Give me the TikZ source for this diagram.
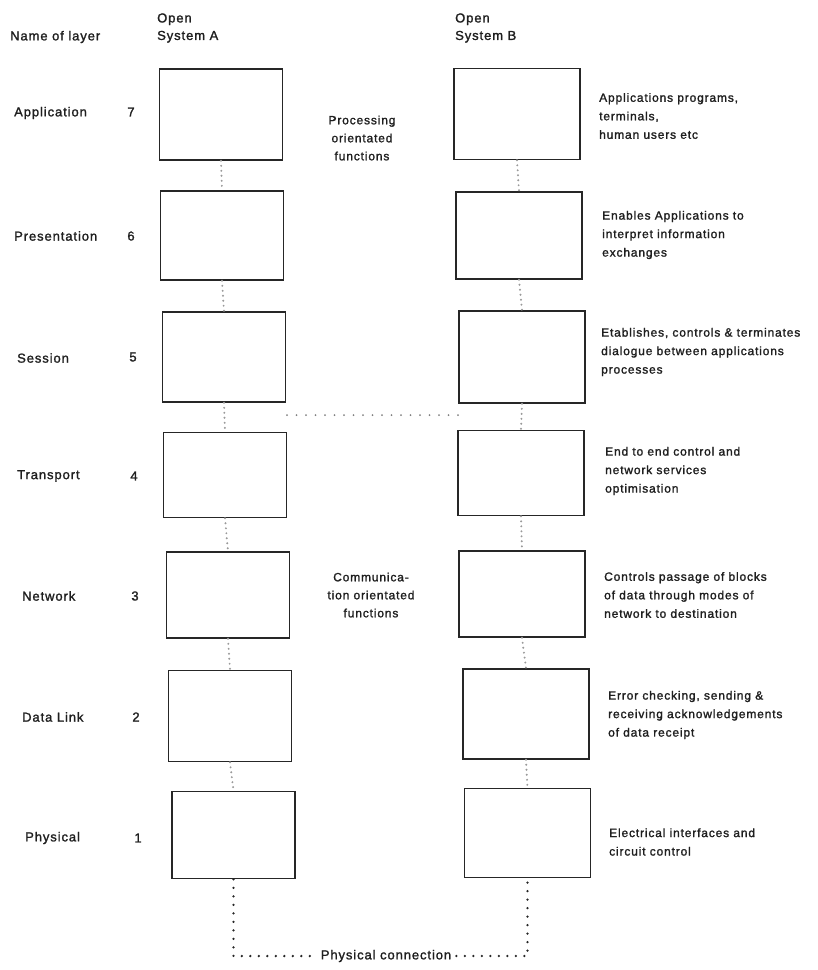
\documentclass[tikz,border=0pt]{standalone}
\usepackage{fontspec}
\newfontfamily\labelfont{Liberation Sans}[LetterSpace=7, FakeBold=1.5]
\begin{document}
\begin{tikzpicture}[x=1pt,y=-1pt,
  ink/.style={text=black!88},
  layername/.style={ink, anchor=west, inner sep=0pt, font=\labelfont\fontsize{13}{16}\selectfont},
  layernum/.style={ink, inner sep=0pt, font=\labelfont\fontsize{13}{16}\selectfont},
  header/.style={ink, anchor=west, align=left, inner sep=0pt, font=\labelfont\fontsize{13}{17.5}\selectfont},
  midnote/.style={ink, align=center, inner sep=0pt, font=\labelfont\fontsize{12}{18}\selectfont},
  descr/.style={ink, anchor=west, align=left, inner sep=0pt, font=\labelfont\fontsize{12}{18.5}\selectfont},
  sysbox/.style={draw=black!85, line width=1.6pt, inner sep=0pt, fill=white},
  boxA/.style={sysbox, minimum width=123pt},
  boxB/.style={sysbox, minimum width=126pt},
  linkdots/.style={draw=black!40, line width=2.2pt, line cap=round, dash pattern=on 0pt off 5pt},
  sessdots/.style={draw=black!50, line width=2pt, line cap=round, dash pattern=on 0pt off 9.5pt},
  physdots/.style={draw=black!85, line width=2.6pt, line cap=round, dash pattern=on 0pt off 8.5pt},
]
\useasboundingbox (0,0) rectangle (818,970);

% column headings
\node[header] (hname) at (10,37) {Name of layer};
\node[header] (hA) at (157,28) {Open\\System A};
\node[header] (hB) at (455,28) {Open\\System B};

% layer names and numbers
\node[layername] (n7) at (14,113) {Application};
\node[layername] (n6) at (14,236) {Presentation};
\node[layername] (n5) at (17,358) {Session};
\node[layername] (n4) at (17,476) {Transport};
\node[layername] (n3) at (22,596) {Network};
\node[layername] (n2) at (22,717) {Data Link};
\node[layername] (n1) at (25,838) {Physical};

\node[layernum] (k7) at (131,112) {7};
\node[layernum] (k6) at (131,236) {6};
\node[layernum] (k5) at (133,357) {5};
\node[layernum] (k4) at (134,476) {4};
\node[layernum] (k3) at (135,596) {3};
\node[layernum] (k2) at (136,717) {2};
\node[layernum] (k1) at (138,838) {1};

% open system A
\node[boxA, minimum height=91pt] (a7) at (221,114.5) {};
\node[boxA, minimum height=89pt] (a6) at (222,235.5) {};
\node[boxA, minimum height=90pt] (a5) at (224,357) {};
\node[boxA, minimum height=85pt] (a4) at (225,475) {};
\node[boxA, minimum height=86pt] (a3) at (228,595) {};
\node[boxA, minimum height=91pt] (a2) at (230,716) {};
\node[boxA, minimum height=87pt] (a1) at (233.5,835) {};

% open system B
\node[boxB, minimum height=91pt] (b7) at (517,114) {};
\node[boxB, minimum height=87pt] (b6) at (519,235.5) {};
\node[boxB, minimum height=92pt] (b5) at (522,357) {};
\node[boxB, minimum height=85pt] (b4) at (521,473) {};
\node[boxB, minimum height=86pt] (b3) at (522,594) {};
\node[boxB, minimum height=90pt] (b2) at (526,714) {};
\node[boxB, minimum height=89pt] (b1) at (527.5,833) {};

% links between adjacent layers
\foreach \u/\l in {7/6,6/5,5/4,4/3,3/2,2/1}{
  \draw[linkdots] (a\u.south) -- (a\l.north);
  \draw[linkdots] (b\u.south) -- (b\l.north);
}

% peer boundary between upper and lower layers
\coordinate (sA) at (287,415);
\coordinate (sB) at (458,415);
\draw[sessdots] (sA) -- (sB);

% functional groupings
\node[midnote] (proc) at (362,138) {Processing\\orientated\\functions};
\node[midnote] (comm) at (371,595) {Communica-\\tion orientated\\functions};

% layer descriptions
\node[descr] (d7) at (599,116) {Applications programs,\\terminals,\\human users etc};
\node[descr] (d6) at (602,235) {Enables Applications to\\interpret information\\exchanges};
\node[descr] (d5) at (601,352) {Etablishes, controls \& terminates\\dialogue between applications\\processes};
\node[descr] (d4) at (605,471) {End to end control and\\network services\\optimisation};
\node[descr] (d3) at (604,595) {Controls passage of blocks\\of data through modes of\\network to destination};
\node[descr] (d2) at (608,715) {Error checking, sending \&\\receiving acknowledgements\\of data receipt};
\node[descr] (d1) at (609,842) {Electrical interfaces and\\circuit control};

% physical medium
\node[layername, anchor=center, inner sep=5pt] (phys) at (386,956) {Physical connection};
\draw[physdots] (a1.south) |- (phys.west);
\draw[physdots] (phys.east) -| (b1.south);
\end{tikzpicture}
\end{document}
